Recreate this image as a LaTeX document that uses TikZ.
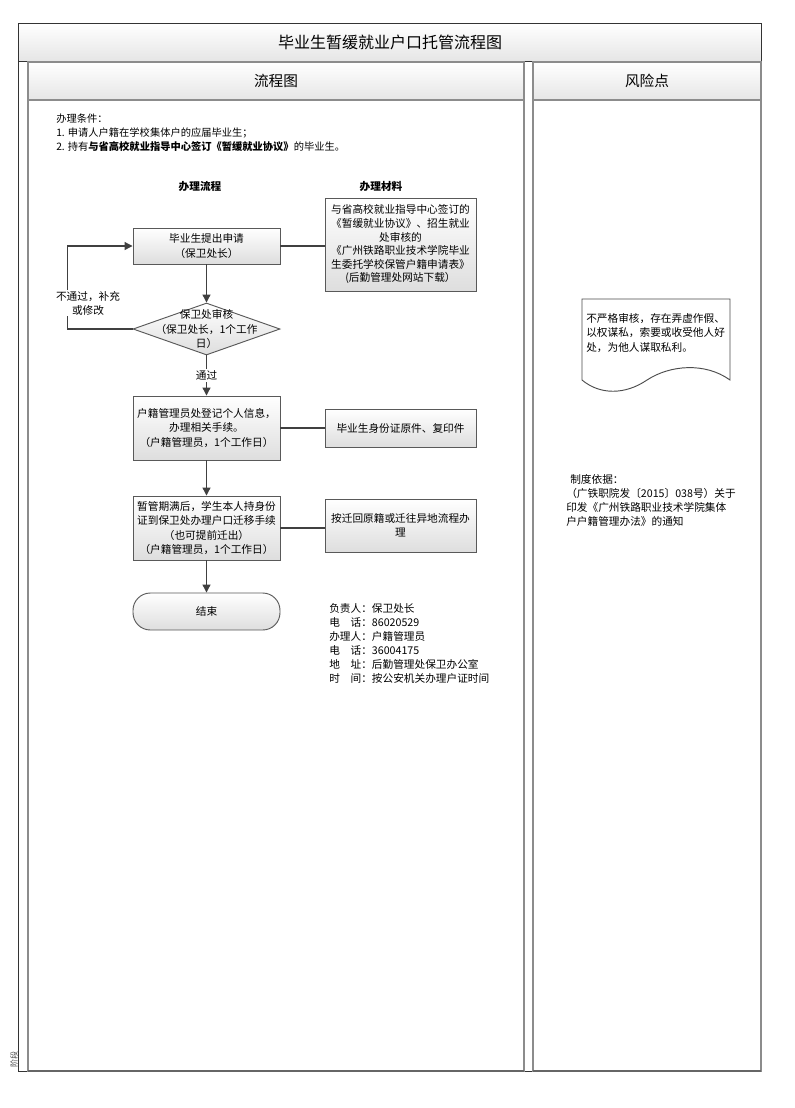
\documentclass[tikz,border=0pt]{standalone}
\usepackage{fontspec}
\setmainfont{Noto Sans CJK SC}
\usetikzlibrary{shapes.geometric,arrows.meta}
\begin{document}
\begin{tikzpicture}[x=0.75pt,y=-0.75pt,
    box/.style={draw=black!65,top color=white,bottom color=black!13,line width=0.7pt,inner sep=2pt,
        minimum width=110.25pt,align=center,font=\fontsize{8}{10.8}\selectfont},
    mat/.style={box,minimum width=113.25pt,font=\fontsize{8}{10.2}\selectfont},
    dia/.style={diamond,draw=black!65,top color=white,bottom color=black!13,line width=0.7pt,
        minimum width=110.25pt,minimum height=39pt,inner sep=0pt},
    arr/.style={draw=black!75,line width=0.9pt,-{Triangle[length=6pt,width=6pt]}},
    link/.style={draw=black!75,line width=1.4pt},
    head/.style={draw=black!45,line width=1pt,top color=white,bottom color=black!10},
    lane/.style={draw=black!45,line width=1.2pt},
    txt/.style={font=\fontsize{8}{10.5}\selectfont,align=left,inner sep=0pt}]
\useasboundingbox (0,0) rectangle (794,1108);
% frame and lanes
\draw[black!80,line width=0.6pt] (18,23) rectangle (761,1071);
\draw[black!80,line width=0.6pt,top color=white,bottom color=black!10] (18,23) rectangle (761,61);
\node (title) at (390,42) {\fontsize{12}{14}\selectfont 毕业生暂缓就业户口托管流程图};
\draw[lane,fill=white] (28,62) rectangle (524,1071);
\draw[lane,fill=white] (533,62) rectangle (761,1071);
\draw[head] (28,62) rectangle (524,100);
\draw[head] (533,62) rectangle (761,100);
\draw[black!60,line width=1.6pt] (28,1071)--(524,1071) (533,1071)--(761,1071);
\node (lflow) at (276,81) {\fontsize{11}{13}\selectfont 流程图};
\node (lrisk) at (647,81) {\fontsize{11}{13}\selectfont 风险点};
\node[rotate=90,text=black!70,font=\fontsize{6}{7}\selectfont] (stage) at (14,1059) {阶段};
% conditions
\node[txt,anchor=north west,font=\fontsize{7.7}{10.3}\selectfont] (cond) at (56,114)
    {办理条件：\\1. 申请人户籍在学校集体户的应届毕业生；\\
     2. 持有{\bfseries 与省高校就业指导中心签订《暂缓就业协议》}的毕业生。};
\node[font=\bfseries\fontsize{8}{9}\selectfont] (hflow) at (200,186) {办理流程};
\node[font=\bfseries\fontsize{8}{9}\selectfont] (hmat) at (381,186) {办理材料};
% flow
\node[box,minimum height=27pt] (apply) at (206.5,246) {毕业生提出申请\\（保卫处长）};
\node[dia] (check) at (206.5,329) {};
\node[align=center,font=\fontsize{8}{10.8}\selectfont] (checkt) at (check) {保卫处审核\\（保卫处长，1个工作\\日）};
\node[box,minimum height=48pt] (reg) at (206.5,428) {户籍管理员处登记个人信息，\\办理相关手续。\\（户籍管理员，1个工作日）};
\node[box,minimum height=48pt] (move) at (206.5,528) {暂管期满后，学生本人持身份\\证到保卫处办理户口迁移手续\\（也可提前迁出）\\（户籍管理员，1个工作日）};
\node[box,rounded corners=13pt,minimum height=27.75pt] (done) at (206.5,611.5) {结束};
\node[mat,minimum height=69.75pt] (mapply) at (400.5,244.5) {与省高校就业指导中心签订的\\《暂缓就业协议》、招生就业\\处审核的\\《广州铁路职业技术学院毕业\\生委托学校保管户籍申请表》\\(后勤管理处网站下载）};
\node[mat,minimum height=28.5pt] (mreg) at (400.5,428) {毕业生身份证原件、复印件};
\node[mat,minimum height=39.75pt] (mmove) at (400.5,525.5) {按迁回原籍或迁往异地流程办\\理};
\draw[arr] (apply) -- (check);
\draw[arr] (check) -- (reg) node[midway,fill=white,inner sep=1pt,font=\fontsize{8}{10}\selectfont] (pass) {通过};
\draw[arr] (reg) -- (move);
\draw[arr] (move) -- (done);
\draw[arr] (check.west) -- ++(-65,0) |- (apply.west);
\node[fill=white,inner sep=1pt,align=center,font=\fontsize{8}{10.5}\selectfont] (fail) at (88,303) {不通过，补充\\或修改};
\draw[link] (apply.east) -- (apply.east -| mapply.west);
\draw[link] (reg) -- (mreg);
\draw[link] (move.east) -- (move.east -| mmove.west);
\node[txt,anchor=north west] (info) at (329,603)
    {负责人：保卫处长\\电　话：86020529\\办理人：户籍管理员\\电　话：36004175\\地　址：后勤管理处保卫办公室\\时　间：按公安机关办理户证时间};
% risk
\draw[black!70,line width=0.7pt,fill=white] (582,380) -- (582,299) -- (730,299) -- (730,380)
    .. controls (705,362) and (670,365) .. (647,380) .. controls (625,395) and (600,395) .. (582,380);
\node[txt,anchor=north west,font=\fontsize{8}{10.8}\selectfont] (risk) at (586,313)
    {不严格审核，存在弄虚作假、\\以权谋私，索要或收受他人好\\处，为他人谋取私利。};
\node[txt,anchor=north west] (basis) at (566,474)
    {\hspace{3pt}制度依据：\\（广铁职院发〔2015〕038号）关于\\印发《广州铁路职业技术学院集体\\户户籍管理办法》的通知};
\end{tikzpicture}
\end{document}
